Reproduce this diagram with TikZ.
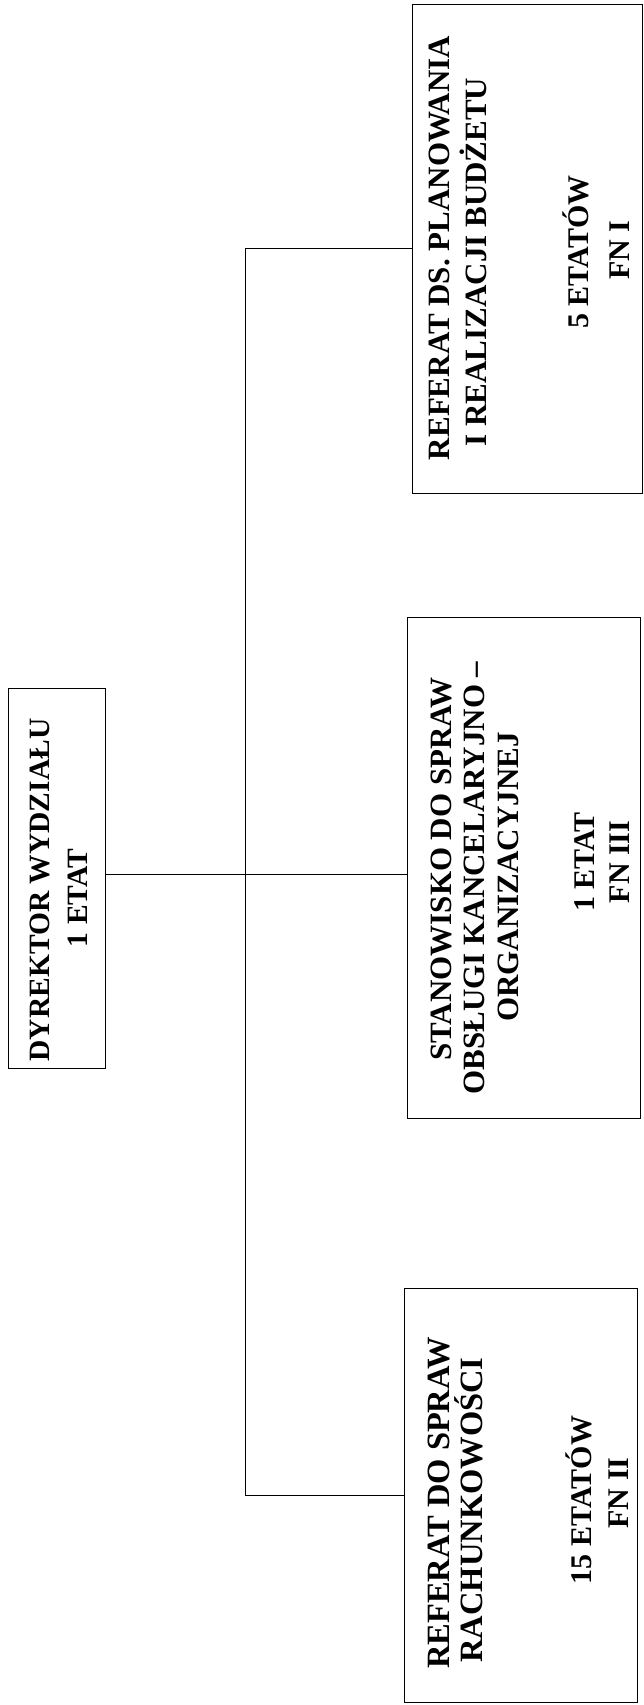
\documentclass[tikz,border=0pt]{standalone}
\usepackage{fontspec}
\setmainfont{Liberation Serif}
\begin{document}
\begin{tikzpicture}[x=1pt,y=-1pt,
  box/.style={draw=black, line width=0.9pt, rectangle, inner sep=0pt},
  conn/.style={draw=black, line width=1pt},
  txt/.style={rotate=90, anchor=base, inner sep=0pt, font=\fontsize{31}{37}\selectfont\bfseries},
  dtxt/.style={txt, font=\fontsize{29.5}{35}\selectfont\bfseries},
  btxt/.style={txt, font=\fontsize{32.5}{38}\selectfont\bfseries},
  ltxt/.style={txt, font=\fontsize{30}{36}\selectfont\bfseries}]
\useasboundingbox (0,0) rectangle (644,1705);
% boxes
\node[box, minimum width=97pt, minimum height=380pt] (dir) at (56.5,878) {};
\node[box, minimum width=230pt, minimum height=489pt] (b1) at (527,248.5) {};
\node[box, minimum width=233pt, minimum height=501pt] (b2) at (523.5,867.5) {};
\node[box, minimum width=233pt, minimum height=414pt] (b3) at (520.5,1495) {};
% texts
\node[dtxt] (d1) at (49,890) {DYREKTOR WYDZIAŁU};
\node[dtxt] (d2) at (87,898) {1 ETAT};
\node[txt] (p1) at (449,248) {REFERAT DS. PLANOWANIA};
\node[txt] (p2) at (486,262) {I REALIZACJI BUDŻETU};
\node[ltxt] (p3) at (588,252) {5 ETATÓW};
\node[ltxt] (p4) at (629,250) {FN I};
\node[txt] (s1) at (451,869) {STANOWISKO DO SPRAW};
\node[txt] (s2) at (484,878) {OBSŁUGI KANCELARYJNO –};
\node[txt] (s3) at (518,877) {ORGANIZACYJNEJ};
\node[ltxt] (s4) at (594,862) {1 ETAT};
\node[ltxt] (s5) at (629,862) {FN III};
\node[btxt] (r1) at (449,1503) {REFERAT DO SPRAW};
\node[btxt] (r2) at (482,1510) {RACHUNKOWOŚCI};
\node[ltxt] (r3) at (591,1500) {15 ETATÓW};
\node[ltxt] (r4) at (628,1493) {FN II};
% connectors
\coordinate (bt) at (245,248.5);
\coordinate (bb) at (245,1495);
\draw[conn] (b1.west) -- (bt) -- (bb) -- (b3.west);
\draw[conn] (dir.east |- 0,874) -- (b2.west |- 0,874);
\end{tikzpicture}
\end{document}
